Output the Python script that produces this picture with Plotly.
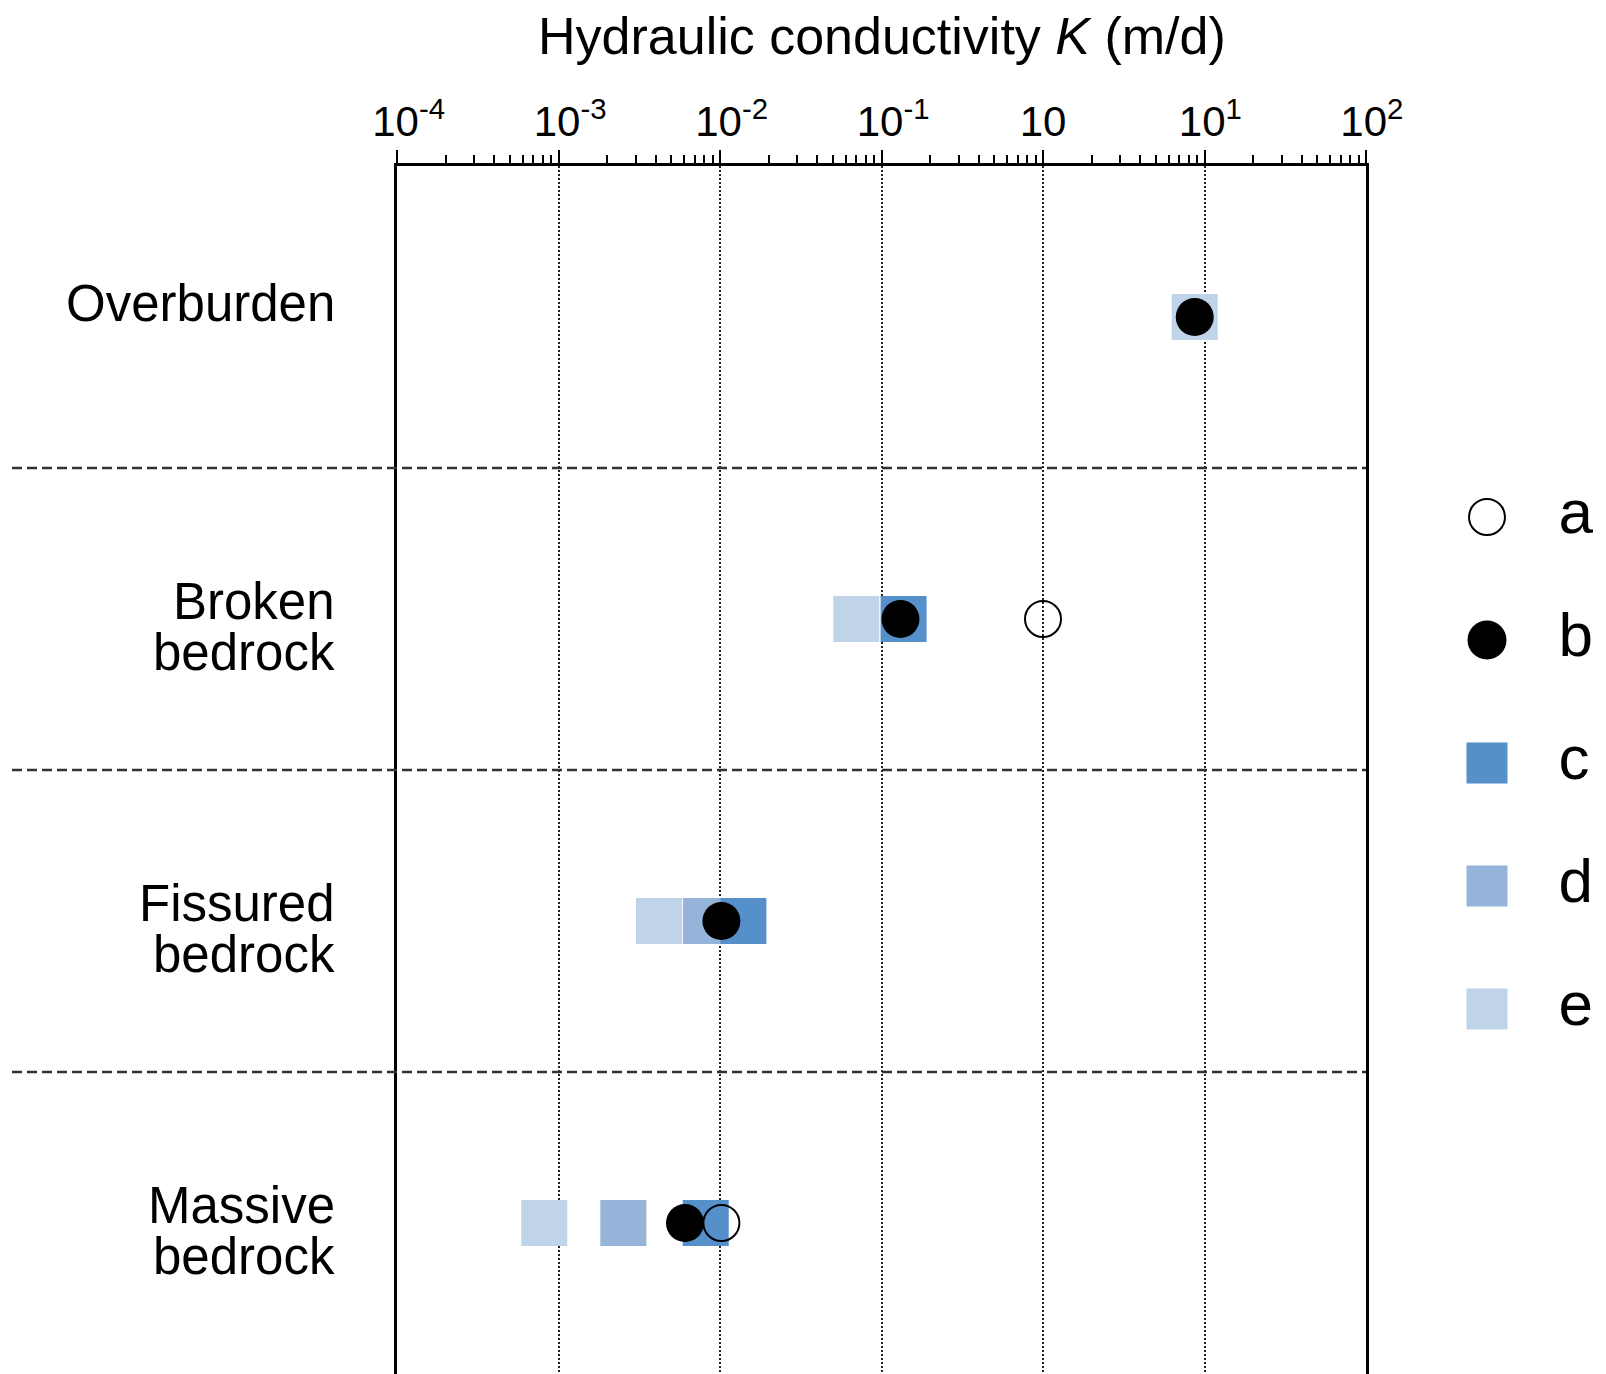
import plotly.graph_objects as go

# ---------------- data ----------------
categories = ["Overburden", "Broken bedrock", "Fissured bedrock", "Massive bedrock"]
category_lines = [["Overburden"], ["Broken", "bedrock"], ["Fissured", "bedrock"], ["Massive", "bedrock"]]

series_a = [None, 1.0, None, 0.0102]
series_b = [8.7, 0.131, 0.0102, 0.00607]
series_c = [None, 0.137, 0.01396, 0.00816]
series_d = [None, None, 0.00818, 0.00252]
series_e = [8.7, 0.0698, 0.00419, 0.000816]

legend_labels = ["a", "b", "c", "d", "e"]

tick_values = [1e-4, 1e-3, 1e-2, 1e-1, 1, 10, 100]
tick_bases = ["10", "10", "10", "10", "10", "10", "10"]
tick_exponents = ["-4", "-3", "-2", "-1", "", "1", "2"]

# ---------------- styles ----------------
FONT = "Liberation Sans, Arial, sans-serif"
COL_C = "#5590cb"
COL_D = "#96b4da"
COL_E = "#c0d4e9"
SQ = 46
NBSP = "\u00a0"

W, H = 1606, 1374
TOP = 166
PLOT_L, PLOT_R = 397, 1366


def tick_label(base, exp):
    # pad on the left so that the base "10" sits centred on the tick, as in the original
    if not exp:
        return base
    pad = NBSP * (2 if len(exp) > 1 else 1)
    return f"{pad}{base}<sup>{exp}</sup>"


tick_labels = [tick_label(b, e) for b, e in zip(tick_bases, tick_exponents)]

fig = go.Figure()


def sq_trace(vals, color, name):
    xs, ys = [], []
    for c, v in zip(categories, vals):
        if v is not None:
            xs.append(v); ys.append(c)
    return go.Scatter(x=xs, y=ys, mode="markers", name=name, showlegend=False,
                      marker=dict(symbol="square", size=SQ, color=color, line=dict(width=0)),
                      xaxis="x", yaxis="y", hoverinfo="x+y")


fig.add_trace(sq_trace(series_e, COL_E, "e"))
fig.add_trace(sq_trace(series_d, COL_D, "d"))
fig.add_trace(sq_trace(series_c, COL_C, "c"))

xb = [v for v in series_b if v is not None]
yb = [c for c, v in zip(categories, series_b) if v is not None]
fig.add_trace(go.Scatter(x=xb, y=yb, mode="markers", name="b", showlegend=False,
                         marker=dict(symbol="circle", size=38, color="black", line=dict(width=0))))
xa = [v for v in series_a if v is not None]
ya = [c for c, v in zip(categories, series_a) if v is not None]
fig.add_trace(go.Scatter(x=xa, y=ya, mode="markers", name="a", showlegend=False,
                         marker=dict(symbol="circle-open", size=36, color="black",
                                     line=dict(width=2, color="black"))))

# ---------------- custom legend on a hidden axis pair ----------------
leg_styles = {
    "a": dict(symbol="circle-open", size=36, color="black", line=dict(width=2, color="black")),
    "b": dict(symbol="circle", size=39, color="black", line=dict(width=0)),
    "c": dict(symbol="square", size=41, color=COL_C, line=dict(width=0)),
    "d": dict(symbol="square", size=41, color=COL_D, line=dict(width=0)),
    "e": dict(symbol="square", size=41, color=COL_E, line=dict(width=0)),
}
for lab in legend_labels:
    fig.add_trace(go.Scatter(x=[0.259], y=[lab], mode="markers", marker=leg_styles[lab],
                             showlegend=False, xaxis="x2", yaxis="y2", hoverinfo="skip"))
fig.add_trace(go.Scatter(x=[0.705] * len(legend_labels), y=legend_labels, text=legend_labels,
                         mode="text", textposition="middle right",
                         textfont=dict(family=FONT, size=62, color="black"),
                         showlegend=False, xaxis="x2", yaxis="y2", hoverinfo="skip"))

# ---------------- layout ----------------
shapes = []
for k in range(len(categories) - 1):
    shapes.append(dict(type="line", xref="paper", yref="y",
                       x0=12 / W, x1=PLOT_R / W, y0=k + 0.5, y1=k + 0.5,
                       line=dict(color="#333333", width=2.5, dash="10px,5px"), layer="above"))

annotations = []
for c, lines in zip(categories, category_lines):
    if len(lines) == 1:
        offsets = [14]
    else:
        offsets = [18, -33]
    for ln, off in zip(lines, offsets):
        annotations.append(dict(text=ln, xref="paper", yref="y", x=337 / W, y=c,
                                xanchor="right", yanchor="middle", yshift=off, showarrow=False,
                                font=dict(family=FONT, size=51, color="black")))

annotations.append(dict(text="Hydraulic conductivity <i>K</i> (m/d)", xref="paper", yref="paper",
                        x=(PLOT_L + PLOT_R) / 2 / W, y=1 + (TOP - 36) / (H - TOP),
                        xanchor="center", yanchor="middle", showarrow=False,
                        font=dict(family=FONT, size=52, color="black")))

fig.update_layout(
    template="none",
    width=W, height=H,
    margin=dict(l=0, r=0, t=TOP, b=0, pad=0, autoexpand=False),
    paper_bgcolor="white", plot_bgcolor="white",
    font=dict(family=FONT, color="black"),
    showlegend=False,
    shapes=shapes,
    annotations=annotations,
    xaxis=dict(
        type="log", range=[-4, 2], side="top", automargin=False,
        domain=[PLOT_L / W, PLOT_R / W],
        tickmode="array", tickvals=tick_values, ticktext=tick_labels,
        tickfont=dict(family=FONT, size=42, color="black"),
        ticks="outside", ticklen=13, tickwidth=2, tickcolor="black",
        ticklabelstandoff=-3,
        showline=True, linecolor="black", linewidth=2.5, mirror=False,
        showgrid=True, gridcolor="#222222", gridwidth=1.5, griddash="2px,2px",
        minor=dict(dtick="D1", ticks="outside", ticklen=8, tickwidth=1.5,
                   tickcolor="black", showgrid=False),
        zeroline=False, anchor="y", fixedrange=True,
    ),
    yaxis=dict(
        type="category", categoryorder="array", categoryarray=categories, automargin=False,
        range=[len(categories) - 0.5, -0.5], domain=[0, 1],
        showticklabels=False, ticks="", showgrid=False, zeroline=False,
        showline=True, linecolor="black", linewidth=2.5, mirror=True,
        anchor="x", fixedrange=True,
    ),
    xaxis2=dict(domain=[0.9, 1.0], range=[0, 1], visible=False, anchor="y2",
                fixedrange=True, automargin=False),
    yaxis2=dict(type="category", categoryorder="array", categoryarray=legend_labels,
                domain=[0, 1], range=[6.967, -2.854], visible=False, anchor="x2",
                fixedrange=True, automargin=False),
)

fig.write_html("out.html")
